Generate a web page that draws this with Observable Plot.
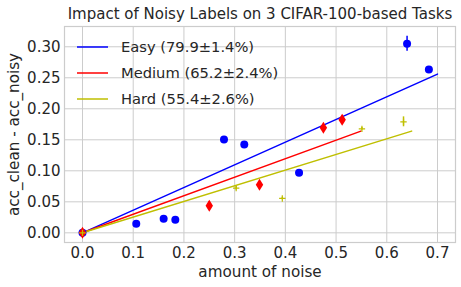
<!DOCTYPE html>
<html>
<head>
<meta charset="utf-8">
<script src="https://cdn.jsdelivr.net/npm/d3@7"></script>
<script src="https://cdn.jsdelivr.net/npm/@observablehq/plot@0.6"></script>
<style>
  html, body { margin: 0; padding: 0; background: white; }
  #chart { position: relative; width: 461px; height: 287px; }
</style>
</head>
<body>
<div id="chart"></div>
<script>
const title = "Impact of Noisy Labels on 3 CIFAR-100-based Tasks";
const xLabel = "amount of noise";
const yLabel = "acc_clean - acc_noisy";
const xTicks = [0, 0.1, 0.2, 0.3, 0.4, 0.5, 0.6, 0.7];
const yTicks = [0, 0.05, 0.10, 0.15, 0.20, 0.25, 0.30];

const seriesNames = ["Easy (79.9±1.4%)", "Medium (65.2±2.4%)", "Hard (55.4±2.6%)"];
const seriesColors = ["#0000ff", "#ff0000", "#bfbf00"];

const easyX = [0, 0.106, 0.160, 0.183, 0.279, 0.319, 0.427, 0.640, 0.683];
const easyY = [0, 0.0145, 0.0226, 0.021, 0.1505, 0.1425, 0.0968, 0.3048, 0.2634];
const easyErr = [0.001, 0.002, 0.002, 0.002, 0.002, 0.002, 0.002, 0.012, 0.002];

const medX = [0, 0.250, 0.349, 0.475, 0.512];
const medY = [0, 0.0435, 0.0774, 0.1694, 0.1823];
const medErr = [0.001, 0.007, 0.005, 0.005, 0.006];

const hardX = [0, 0.303, 0.394, 0.551, 0.633];
const hardY = [0, 0.072, 0.0554, 0.1677, 0.179];
const hardErr = [0.001, 0.003, 0.002, 0.002, 0.008];

// fitted lines (through origin), endpoints
const easyFitX = [0, 0.700], easyFitY = [0, 0.256];
const medFitX = [0, 0.549], medFitY = [0, 0.164];
const hardFitX = [0, 0.649], hardFitY = [0, 0.164];

const pts = (xs, ys, es) => xs.map((x, i) => ({x, y: ys[i], e: es[i]}));
const line = (xs, ys) => xs.map((x, i) => ({x, y: ys[i]}));

const easy = pts(easyX, easyY, easyErr);
const med = pts(medX, medY, medErr);
const hard = pts(hardX, hardY, hardErr);

const thinDiamond = {
  draw(ctx, size) {
    const h = Math.sqrt(size) * 0.75, w = h * 0.62;
    ctx.moveTo(0, -h); ctx.lineTo(w, 0); ctx.lineTo(0, h); ctx.lineTo(-w, 0); ctx.closePath();
  }
};
const plusSym = {
  draw(ctx, size) {
    const r = Math.sqrt(size) * 0.45;
    ctx.moveTo(-r, 0); ctx.lineTo(r, 0); ctx.moveTo(0, -r); ctx.lineTo(0, r);
  }
};

const errBars = (data, color) => Plot.ruleX(data, {x: "x", y1: d => d.y - d.e, y2: d => d.y + d.e, stroke: color, strokeWidth: 1.5});

const plot = Plot.plot({
  width: 461, height: 287,
  marginLeft: 64, marginRight: 6, marginTop: 26, marginBottom: 45,
  x: {domain: [-0.0355, 0.7355]},
  y: {domain: [-0.0156, 0.3327]},
  style: {fontFamily: "DejaVu Sans", fontSize: "15px", color: "#262626", background: "white", overflow: "visible"},
  marks: [
    Plot.gridX(xTicks, {stroke: "#cccccc", strokeOpacity: 1, strokeWidth: 1}),
    Plot.gridY(yTicks, {stroke: "#cccccc", strokeOpacity: 1, strokeWidth: 1}),
    Plot.frame({stroke: "#cccccc", strokeWidth: 1.2}),
    Plot.axisX({ticks: xTicks, tickSize: 0, tickPadding: 5, tickFormat: d => d.toFixed(1), fontSize: 15,
      label: null}),
    Plot.axisY({ticks: yTicks, tickSize: 0, tickPadding: 4, tickFormat: d => d.toFixed(2), fontSize: 15,
      label: null}),
    Plot.text([xLabel], {frameAnchor: "bottom", dy: 30, lineAnchor: "middle", textAnchor: "middle", fontSize: 15.2, fill: "#262626"}),
    Plot.text([yLabel], {frameAnchor: "left", dx: -50, rotate: -90, lineAnchor: "middle", textAnchor: "middle", fontSize: 15.2, fill: "#262626"}),
    Plot.line(line(easyFitX, easyFitY), {x: "x", y: "y", stroke: seriesColors[0], strokeWidth: 1.5}),
    Plot.line(line(medFitX, medFitY), {x: "x", y: "y", stroke: seriesColors[1], strokeWidth: 1.5}),
    Plot.line(line(hardFitX, hardFitY), {x: "x", y: "y", stroke: seriesColors[2], strokeWidth: 1.5}),
    errBars(easy, seriesColors[0]),
    Plot.dot(easy, {x: "x", y: "y", r: 4, fill: seriesColors[0], stroke: "none"}),
    errBars(med, seriesColors[1]),
    Plot.dot(med, {x: "x", y: "y", symbol: thinDiamond, r: 4.5, fill: seriesColors[1], stroke: "none"}),
    errBars(hard, seriesColors[2]),
    Plot.dot(hard, {x: "x", y: "y", symbol: plusSym, r: 4, fill: "none", stroke: seriesColors[2], strokeWidth: 1.2}),
    Plot.text([title], {frameAnchor: "top", dy: -12, lineAnchor: "middle", fontSize: 15, fill: "#262626"})
  ]
});

document.getElementById("chart").appendChild(plot);

// legend
const svg = d3.select(plot);
const lg = svg.append("g").attr("font-family", "DejaVu Sans").attr("font-size", 14.7)
  .attr("fill", "#262626").attr("text-anchor", "start");
seriesNames.forEach((name, i) => {
  const y = 47 + i * 26;
  lg.append("line").attr("x1", 77).attr("x2", 108).attr("y1", y).attr("y2", y)
    .attr("stroke", seriesColors[i]).attr("stroke-width", 1.5);
  lg.append("text").attr("x", 121).attr("y", y).attr("dy", "0.35em").text(name);
});
</script>
</body>
</html>
